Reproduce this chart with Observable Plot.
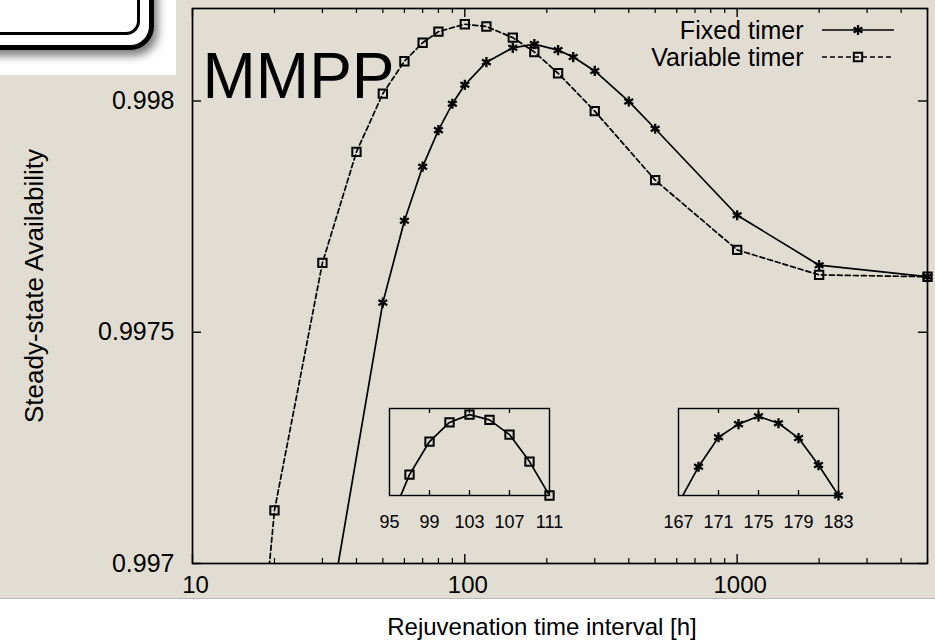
<!DOCTYPE html>
<html><head><meta charset="utf-8">
<script src="https://cdn.jsdelivr.net/npm/d3@7"></script>
<script src="https://cdn.jsdelivr.net/npm/@observablehq/plot@0.6"></script>
<style>
body{margin:0;background:#fff;font-family:"Liberation Sans",Arial,Helvetica,sans-serif;}
#wrap{position:relative;width:935px;height:644px;overflow:hidden;background:#fff;}
#chart{position:absolute;left:0;top:0;width:935px;height:598px;overflow:hidden;background:#e2ddd3;}
#sep{position:absolute;left:0;top:598px;width:935px;height:1px;background:#b9b7b3;}
#badge{position:absolute;left:0;top:0;width:176px;height:75px;overflow:hidden;background:#fff;}
#badge .outer{position:absolute;left:-60px;top:-60px;width:214px;height:110px;box-sizing:border-box;border:5px solid #000;border-radius:24px;background:#fff;box-shadow:4px 6px 9px rgba(0,0,0,0.5);}
#badge .inner{position:absolute;left:-60px;top:-60px;width:200px;height:95px;box-sizing:border-box;border:3px solid #000;border-radius:14px;background:#fff;}
.abs{position:absolute;}
</style></head>
<body>
<div id="wrap">
  <div id="chart"></div>
  <div id="sep"></div>
</div>
<script>
const FONT = '"Liberation Sans", Arial, Helvetica, sans-serif';

// ---- main series ----
const fixedX = [30, 50, 60, 70, 80, 90, 100, 120, 150, 180, 220, 250, 300, 400, 500, 1000, 2000, 5000];
const fixedY = [0.99680, 0.997564, 0.997741, 0.997858, 0.997937, 0.997994, 0.998035, 0.998084, 0.998115, 0.998123, 0.998110, 0.998095, 0.998065, 0.997999, 0.997940, 0.997753, 0.997645, 0.997620];
const varX = [10, 20, 30, 40, 50, 60, 70, 80, 100, 120, 150, 180, 220, 300, 500, 1000, 2000, 5000];
const varY = [0.99522, 0.997115, 0.997650, 0.997890, 0.998016, 0.998086, 0.998126, 0.998150, 0.998166, 0.998161, 0.998137, 0.998106, 0.998060, 0.997978, 0.997829, 0.997678, 0.997624, 0.997620];

// ---- insets ----
const insetVarX = [95, 97, 99, 101, 103, 105, 107, 109, 111];
const insetVarY = [0.9981539, 0.9981594, 0.9981632, 0.9981654, 0.9981663, 0.9981657, 0.9981640, 0.9981609, 0.9981570];
const insetVarDomain = [0.998157, 0.998167];
const insetVarTicks = [95, 99, 103, 107, 111];
const insetFixX = [167, 169, 171, 173, 175, 177, 179, 181, 183];
const insetFixY = [0.9981131, 0.9981173, 0.9981207, 0.9981222, 0.9981231, 0.9981223, 0.9981206, 0.9981175, 0.9981140];
const insetFixDomain = [0.998114, 0.998124];
const insetFixTicks = [167, 171, 175, 179, 183];

// ---- axes / labels ----
const xDomain = [10, 5000];
const yDomain = [0.997, 0.9982];
const xMajor = [10, 100, 1000];
const xMinor = [20, 30, 40, 50, 60, 70, 80, 90, 200, 300, 400, 500, 600, 700, 800, 900, 2000, 3000, 4000, 5000];
const yTicks = [0.997, 0.9975, 0.998];
const legendLabels = ["Fixed timer", "Variable timer"];
const titleText = "MMPP";
const xTitle = "Rejuvenation time interval [h]";
const yTitle = "Steady-state Availability";

const fixed = fixedX.map((x, i) => ({x, y: fixedY[i]}));
const variable = varX.map((x, i) => ({x, y: varY[i]}));
const inY = (d) => d.y >= yDomain[0] && d.y <= yDomain[1];

const W = 935, H = 598, mL = 192, mR = 8, mT = 8, mB = 35;
const innerW = W - mL - mR, innerH = H - mT - mB;
const astR = 4.8, sqR = 4.7;

const main = Plot.plot({
  width: W, height: H, marginLeft: mL, marginRight: mR, marginTop: mT, marginBottom: mB,
  style: {background: "transparent", fontFamily: FONT, color: "#000", overflow: "visible"},
  x: {type: "log", domain: xDomain},
  y: {domain: yDomain},
  marks: [
    // inward ticks, all four sides
    Plot.ruleX(xMajor, {insetTop: innerH - 9, stroke: "#000", strokeWidth: 1.4}),
    Plot.ruleX(xMajor, {insetBottom: innerH - 9, stroke: "#000", strokeWidth: 1.4}),
    Plot.ruleX(xMinor, {insetTop: innerH - 5, stroke: "#000", strokeWidth: 1.2}),
    Plot.ruleX(xMinor, {insetBottom: innerH - 5, stroke: "#000", strokeWidth: 1.2}),
    Plot.ruleY(yTicks, {insetRight: innerW - 9, stroke: "#000", strokeWidth: 1.4}),
    Plot.ruleY(yTicks, {insetLeft: innerW - 9, stroke: "#000", strokeWidth: 1.4}),
    Plot.line(fixed, {x: "x", y: "y", clip: true, stroke: "#000", strokeWidth: 1.7}),
    Plot.line(variable, {x: "x", y: "y", clip: true, stroke: "#000", strokeWidth: 1.7, strokeDasharray: "5,3"}),
    Plot.dot(fixed.filter(inY), {x: "x", y: "y", symbol: "asterisk", r: astR, stroke: "#000", strokeWidth: 2.3}),
    Plot.dot(variable.filter(inY), {x: "x", y: "y", symbol: "square", r: sqR, stroke: "#000", fill: "none", strokeWidth: 2}),
    Plot.frame({stroke: "#000", strokeWidth: 1.7}),
    Plot.axisX({ticks: xMajor, tickSize: 0, tickPadding: 12, tickFormat: (d) => String(d), fontSize: 24, label: null, dx: 3}),
    Plot.axisY({ticks: yTicks, tickSize: 0, tickPadding: 18, tickFormat: (d) => String(d), fontSize: 25, label: null}),
    Plot.text([yTitle], {frameAnchor: "left", dx: -158, rotate: -90, textAnchor: "middle", lineAnchor: "middle", fontSize: 26, fill: "#000"}),
    Plot.text([titleText], {frameAnchor: "top-left", dx: 10, dy: 89, lineAnchor: "bottom", textAnchor: "start", fontSize: 64, fill: "#000"}),
    Plot.text([legendLabels[0]], {frameAnchor: "top-right", dx: -124, dy: 30, lineAnchor: "bottom", textAnchor: "end", fontSize: 25, fill: "#000"}),
    Plot.text([legendLabels[1]], {frameAnchor: "top-right", dx: -124, dy: 57, lineAnchor: "bottom", textAnchor: "end", fontSize: 25, fill: "#000"})
  ]
});
document.getElementById("chart").appendChild(main);

function inset(xs, ys, dom, ticks, symbol, r, sw, left, top) {
  const data = xs.map((x, i) => ({x, y: ys[i]}));
  const ih = 87;
  const innerTicks = ticks.slice(1, -1);
  const p = Plot.plot({
    width: 184, height: 2 + ih + 40, marginLeft: 12, marginRight: 12, marginTop: 2, marginBottom: 40,
    style: {background: "transparent", fontFamily: FONT, color: "#000", overflow: "visible"},
    x: {domain: [ticks[0], ticks[ticks.length - 1]]},
    y: {domain: dom, axis: null},
    marks: [
      Plot.ruleX(innerTicks, {insetTop: ih - 5, stroke: "#000", strokeWidth: 1.3}),
      Plot.ruleX(innerTicks, {insetBottom: ih - 5, stroke: "#000", strokeWidth: 1.3}),
      Plot.line(data, {x: "x", y: "y", clip: true, stroke: "#000", strokeWidth: 1.7}),
      Plot.dot(data.filter(d => d.y >= dom[0]), {x: "x", y: "y", symbol, r, stroke: "#000", fill: "none", strokeWidth: sw}),
      Plot.frame({stroke: "#000", strokeWidth: 1.4}),
      Plot.axisX({ticks, tickSize: 0, tickPadding: 20, tickFormat: (d) => String(d), fontSize: 18, label: null})
    ]
  });
  p.classList.add("abs");
  p.style.left = left + "px";
  p.style.top = top + "px";
  document.getElementById("chart").appendChild(p);
}
inset(insetVarX, insetVarY, insetVarDomain, insetVarTicks, "square", sqR, 2, 377, 406);
inset(insetFixX, insetFixY, insetFixDomain, insetFixTicks, "asterisk", astR, 2.3, 666, 406);

// legend key samples
const leg = d3.select("#chart").append("svg").attr("class", "abs")
  .attr("width", W).attr("height", 80).style("left", "0px").style("top", "0px");
const keyY = [30, 57];
leg.append("line").attr("x1", 822).attr("x2", 894).attr("y1", keyY[0]).attr("y2", keyY[0])
  .attr("stroke", "#000").attr("stroke-width", 1.7);
leg.append("path").attr("d", d3.symbol(d3.symbolAsterisk, Math.PI * astR * astR)())
  .attr("transform", `translate(858,${keyY[0]})`).attr("fill", "none").attr("stroke", "#000").attr("stroke-width", 2.3);
leg.append("line").attr("x1", 822).attr("x2", 894).attr("y1", keyY[1]).attr("y2", keyY[1])
  .attr("stroke", "#000").attr("stroke-width", 1.7).attr("stroke-dasharray", "5,3");
leg.append("path").attr("d", d3.symbol(d3.symbolSquare, Math.PI * sqR * sqR)())
  .attr("transform", `translate(858,${keyY[1]})`).attr("fill", "none").attr("stroke", "#000").attr("stroke-width", 2);

// badge (top-left decoration)
const badge = document.createElement("div");
badge.id = "badge";
badge.innerHTML = '<div class="outer"></div><div class="inner"></div>';
document.getElementById("chart").appendChild(badge);

// x-axis title below the panel
const bt = d3.select("#wrap").append("svg").attr("class", "abs")
  .attr("width", W).attr("height", 644).style("left", "0px").style("top", "0px").style("pointer-events", "none");
bt.append("text").attr("x", 542).attr("y", 635).attr("text-anchor", "middle")
  .attr("font-family", FONT).attr("font-size", 24).attr("fill", "#000").text(xTitle);
</script>
</body></html>
